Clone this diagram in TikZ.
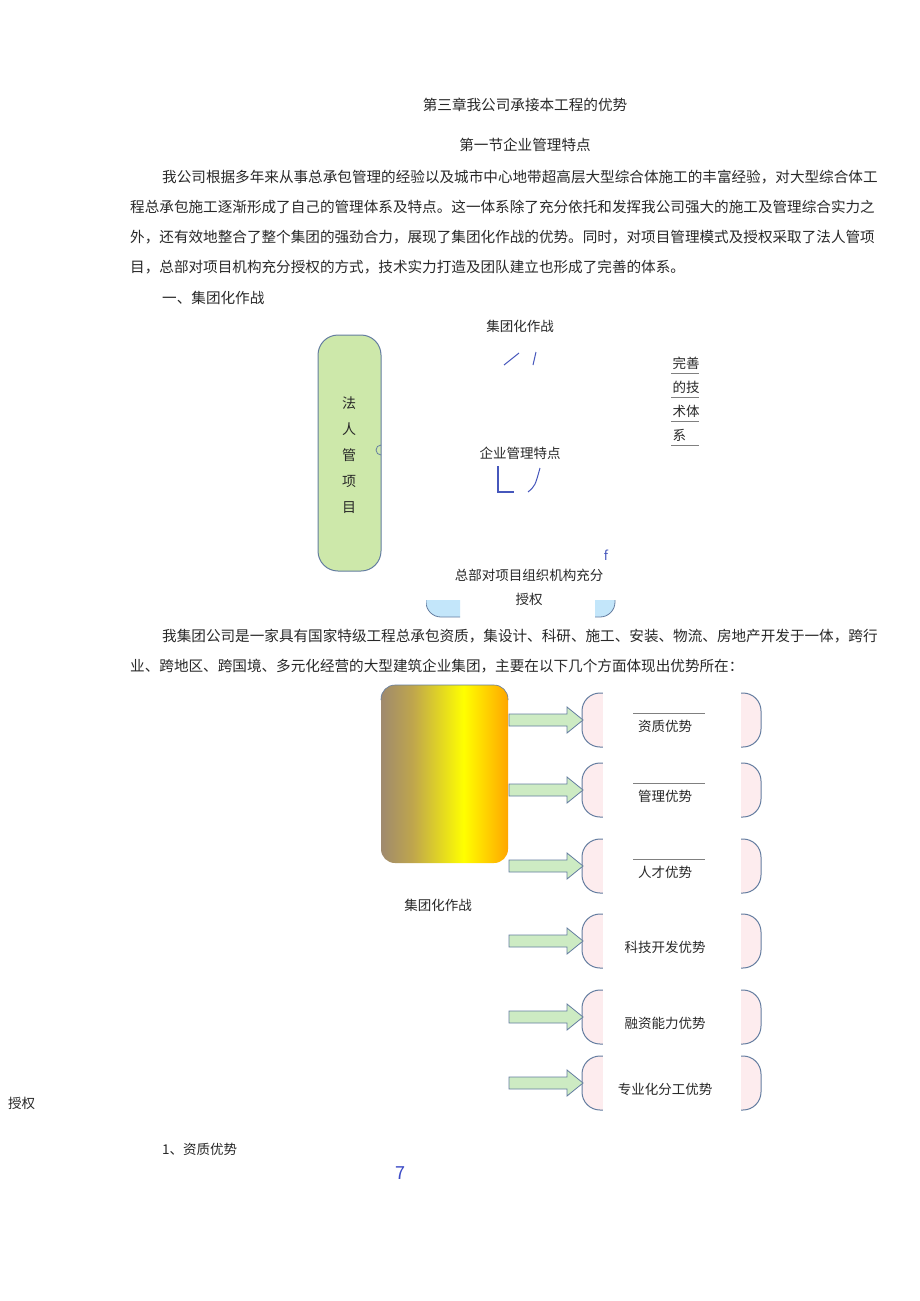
\documentclass[tikz,border=0pt]{standalone}
\usepackage{fontspec}
\setmainfont{Noto Sans CJK SC}
\usetikzlibrary{shapes.misc}
\definecolor{edge}{RGB}{100,125,160}
\definecolor{gfill}{RGB}{205,232,170}
\definecolor{pinkf}{RGB}{253,236,238}
\definecolor{afill}{RGB}{205,235,195}
\definecolor{bluef}{RGB}{195,230,250}
\definecolor{txt}{RGB}{40,40,40}
\pgfdeclarehorizontalshading{bar}{100bp}{rgb(0bp)=(0.5,0.43,0.56);rgb(25bp)=(0.5,0.43,0.56);rgb(50bp)=(0.75,0.65,0.3);rgb(70bp)=(1,1,0);rgb(90bp)=(1,0.6,0);rgb(100bp)=(1,0.35,0.05);rgb(125bp)=(1,0.35,0.05)}
\begin{document}
\begin{tikzpicture}[x=1pt,y=-1pt,
  body/.style={inner sep=0,font=\fontsize{14.6}{16}\selectfont,text=txt},
  small/.style={inner sep=0,font=\fontsize{13.5}{15}\selectfont,text=txt},
  arr/.style={draw=edge,fill=afill,line width=0.8pt}]
\useasboundingbox (0,0) rectangle (920,1301);
\fill[white] (0,0) rectangle (920,1301);
\node[body] (t1) at (525,105) {第三章我公司承接本工程的优势};
\node[body] (t2) at (525,145) {第一节企业管理特点};
\node[body,anchor=west] (p1) at (162,177) {我公司根据多年来从事总承包管理的经验以及城市中心地带超高层大型综合体施工的丰富经验，对大型综合体工};
\node[body,anchor=west] (p2) at (130,207) {程总承包施工逐渐形成了自己的管理体系及特点。这一体系除了充分依托和发挥我公司强大的施工及管理综合实力之};
\node[body,anchor=west] (p3) at (130,237) {外，还有效地整合了整个集团的强劲合力，展现了集团化作战的优势。同时，对项目管理模式及授权采取了法人管项};
\node[body,anchor=west] (p4) at (130,267) {目，总部对项目机构充分授权的方式，技术实力打造及团队建立也形成了完善的体系。};
\node[body,anchor=west] (h1) at (162,298) {一、集团化作战};
% top diagram
\draw[edge,fill=gfill,line width=1pt,rounded corners=20] (318,335) rectangle (381,571);
\draw[edge,line width=0.8pt] (381,445) arc (-90:90:-5 and 5) ;
\node[body,align=center,font=\fontsize{14}{26}\selectfont] (fr) at (349,455) {法\\人\\管\\项\\目};
\node[small] (jt) at (520,326) {集团化作战};
\draw[edge!70!blue,line width=1pt] (504,365) -- (519,353);
\draw[edge!70!blue,line width=1pt] (533,365) -- (536,352);
\node[small,align=left,font=\fontsize{13.5}{24}\selectfont] (ws) at (686,399) {完善\\的技\\术体\\系};
\foreach \y in {373,397,421,445}{\draw[gray,line width=0.6pt] (671,\y) -- (699,\y);}
\node[small] (qy) at (520,453) {企业管理特点};
\draw[edge!70!blue,line width=2pt] (498,466) -- (498,492) -- (514,492);
\draw[edge!70!blue,line width=1pt] (528,492) .. controls (535,486) .. (540,468);
\node[font=\itshape\fontsize{13}{15}\selectfont,text=edge!70!blue] (f) at (606,555) {f};
\node[small,align=center,font=\fontsize{13.5}{24}\selectfont] (zb) at (529,587) {总部对项目组织机构充分\\授权};
\begin{scope}
\clip (426,600) rectangle (460,620);
\draw[edge,fill=bluef,line width=0.8pt,rounded corners=15] (426,570) rectangle (615,617);
\end{scope}
\begin{scope}
\clip (595,600) rectangle (616,620);
\draw[edge,fill=bluef,line width=0.8pt,rounded corners=15] (426,570) rectangle (615,617);
\end{scope}
\node[body,anchor=west] (p5) at (162,636) {我集团公司是一家具有国家特级工程总承包资质，集设计、科研、施工、安装、物流、房地产开发于一体，跨行};
\node[body,anchor=west] (p6) at (130,666) {业、跨地区、跨国境、多元化经营的大型建筑企业集团，主要在以下几个方面体现出优势所在：};
% gradient bar
\shade[shading=bar,rounded corners=14] (381,685) -- (381,863) -- (508,863) -- (508,685) -- cycle;
\draw[edge,line width=0.6pt,rounded corners=14] (381,700) -- (381,685) -- (508,685) -- (508,700);
\node[small] (jt2) at (438,905) {集团化作战};
% rows
\foreach \yc/\lab/\ln/\n in {720/资质优势/1/a,790/管理优势/1/b,866/人才优势/1/c,941/科技开发优势/0/d,1017/融资能力优势/0/e,1083/专业化分工优势/0/g}{
  \draw[edge,fill=pinkf,line width=1pt,rounded corners=18] (582,\yc-27) rectangle (761,\yc+27);
  \fill[white] (603,\yc-29) rectangle (741,\yc+29);
  \node[small] (b\n) at (665,\yc+6) {\lab};
  \ifnum\ln=1 \draw[gray,line width=0.6pt] (633,\yc-7) -- (705,\yc-7);\fi
  \draw[arr] (509,\yc-6) -- (567,\yc-6) -- (567,\yc-13) -- (583,\yc) -- (567,\yc+13) -- (567,\yc+6) -- (509,\yc+6) -- cycle;
}
\node[small,anchor=west] (sq) at (8,1103) {授权};
\node[small,anchor=west] (z1) at (162,1149) {1、资质优势};
\node[font=\fontsize{18}{20}\selectfont,text=edge!60!blue] (pg) at (400,1173) {7};
\end{tikzpicture}
\end{document}
